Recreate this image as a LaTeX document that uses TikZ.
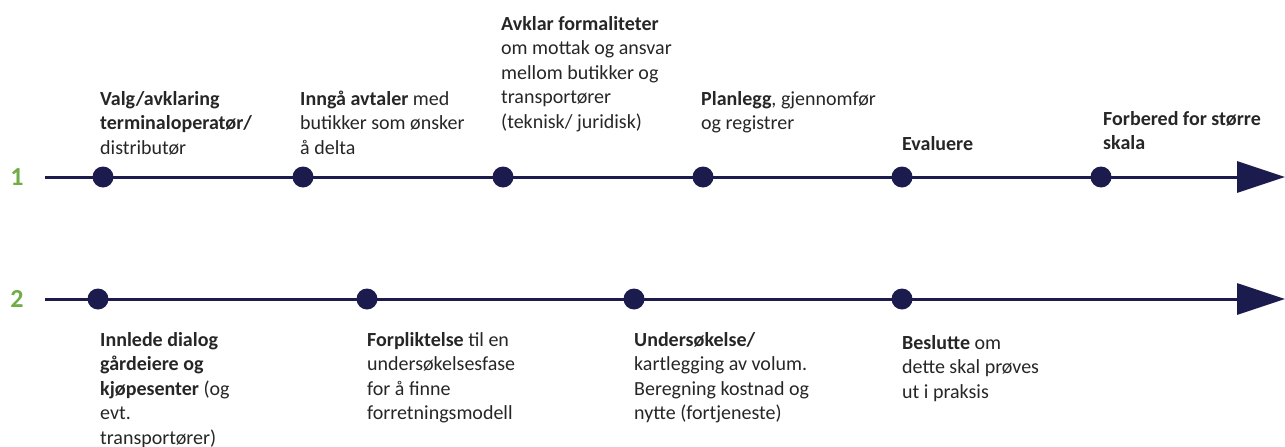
\documentclass[tikz,border=0pt]{standalone}
\usepackage{fontspec}
\setmainfont{Carlito}
\usetikzlibrary{arrows.meta}
\definecolor{navy}{HTML}{1C1B4E}
\definecolor{stepgreen}{HTML}{70AD47}
\definecolor{txtgray}{HTML}{262626}
\begin{document}
\begin{tikzpicture}[x=1pt,y=-1pt,
  timeline/.style={draw=navy, line width=3pt, -{Triangle[length=48pt,width=31pt]}},
  milestone/.style={circle, fill=navy, inner sep=0pt, minimum size=21pt},
  label/.style={anchor=north west, yshift=17.15pt, inner sep=0pt, align=left,
    text=txtgray, font=\fontsize{20}{24.5}\selectfont},
  rownum/.style={text=stepgreen, font=\fontsize{26}{30}\selectfont\bfseries, inner sep=0pt}]
\useasboundingbox (0,0) rectangle (1285,447);

% row 1
\node[rownum] (n1) at (17,177) {1};
\coordinate (s1) at (45,177);
\coordinate (e1) at (1285,177);
\draw[timeline] (s1) -- (e1);
\foreach \i/\x in {a/103,b/303,c/503,d/703,e/902,f/1101}
  \node[milestone] (m1\i) at (\x,177) {};

\node[label] (t1a) at (100,105) {\strut\textbf{Valg/avklaring}\\\textbf{terminaloperatør/}\\distributør};
\node[label] (t1b) at (300,105) {\strut\textbf{Inngå avtaler} med\\butikker som ønsker\\å delta};
\node[label] (t1c) at (501,30) {\strut\textbf{Avklar formaliteter}\\om mottak og ansvar\\mellom butikker og\\transportører\\(teknisk/ juridisk)};
\node[label] (t1d) at (701,105) {\strut\textbf{Planlegg}, gjennomfør\\og registrer};
\node[label] (t1e) at (902,150) {\strut\textbf{Evaluere}};
\node[label] (t1f) at (1103,125) {\strut\textbf{Forbered for større}\\\textbf{skala}};

% row 2
\node[rownum] (n2) at (17,299) {2};
\coordinate (s2) at (45,299);
\coordinate (e2) at (1285,299);
\draw[timeline] (s2) -- (e2);
\foreach \i/\x in {a/98,b/367,c/634,d/902}
  \node[milestone] (m2\i) at (\x,299) {};

\node[label] (t2a) at (100,346) {\strut\textbf{Innlede dialog}\\\textbf{gårdeiere og}\\\textbf{kjøpesenter} (og\\evt.\\transportører)};
\node[label] (t2b) at (367,346) {\strut\textbf{Forpliktelse} til en\\undersøkelsesfase\\for å finne\\forretningsmodell};
\node[label] (t2c) at (634,346) {\strut\textbf{Undersøkelse/}\\kartlegging av volum.\\Beregning kostnad og\\nytte (fortjeneste)};
\node[label] (t2d) at (902,349) {\strut\textbf{Beslutte} om\\dette skal prøves\\ut i praksis};
\end{tikzpicture}
\end{document}
